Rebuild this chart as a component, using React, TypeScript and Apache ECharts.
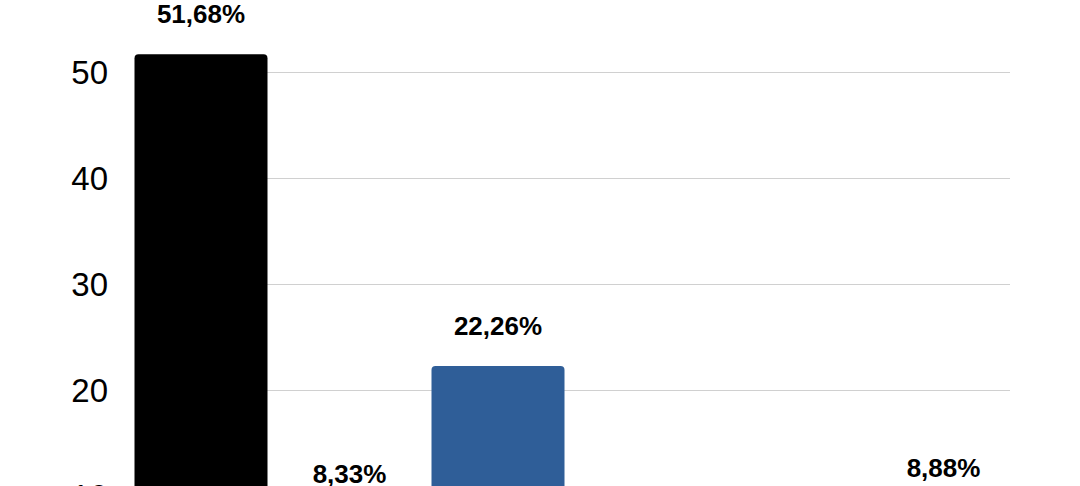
import { useEffect, useRef } from "react";
import * as echarts from "echarts";

// categories sit below the visible area in the reference, so names are placeholders
const categories = ["Categoria 1", "Categoria 2", "Categoria 3", "Categoria 4", "Categoria 5", "Categoria 6"];
const values = [51.68, 8.33, 22.26, 5.29, 3.56, 8.88];
const barColors = ["#000000", "#8c8c8c", "#2f5e98", "#6f9bd1", "#b7b7b7", "#4a4a4a"];
const yTicks = [0, 60, 10]; // min, max, interval

const fmt = (v: number) => v.toFixed(2).replace(".", ",") + "%";

export default function App() {
  const chartRef = useRef<HTMLDivElement>(null);

  useEffect(() => {
    if (!chartRef.current) return;
    const chart = echarts.init(chartRef.current, undefined, { renderer: "svg" });

    chart.setOption({
      animation: false,
      backgroundColor: "#ffffff",
      textStyle: { fontFamily: "Liberation Sans, Arial, sans-serif" },
      grid: [
        // grid 0 carries the split lines + y labels
        { left: 135, right: 70, top: -34, bottom: 98, outerBoundsMode: "none", containLabel: false },
        // grid 1 carries the bars
        { left: 126.75, right: 62.25, top: -34, bottom: 98, outerBoundsMode: "none", containLabel: false },
      ],
      xAxis: [
        { type: "category", gridIndex: 0, data: categories, show: false },
        {
          type: "category",
          gridIndex: 1,
          data: categories,
          axisLine: { show: false },
          axisTick: { show: false },
          axisLabel: { show: false },
        },
      ],
      yAxis: [
        {
          type: "value",
          gridIndex: 0,
          min: yTicks[0],
          max: yTicks[1],
          interval: yTicks[2],
          axisLine: { show: false },
          axisTick: { show: false },
          axisLabel: { color: "#000", fontSize: 33, margin: 27, showMaxLabel: false },
          splitLine: { lineStyle: { color: "#d0d0d0", width: 1 } },
        },
        {
          type: "value",
          gridIndex: 1,
          min: yTicks[0],
          max: yTicks[1],
          interval: yTicks[2],
          show: false,
          splitLine: { show: false },
        },
      ],
      series: [
        {
          type: "bar",
          xAxisIndex: 1,
          yAxisIndex: 1,
          barWidth: 133,
          data: values.map((v, i) => ({
            value: v,
            itemStyle: { color: barColors[i], borderRadius: [4, 4, 0, 0] },
          })),
          label: {
            show: true,
            position: "top",
            distance: 27,
            color: "#000",
            fontSize: 26,
            fontWeight: "bold",
            formatter: (p: { value: number }) => fmt(p.value),
          },
        },
      ],
    });

    return () => chart.dispose();
  }, []);

  return (
    <div
      ref={chartRef}
      style={{ position: "fixed", left: 0, top: 0, width: 1080, height: 700 }}
    />
  );
}
